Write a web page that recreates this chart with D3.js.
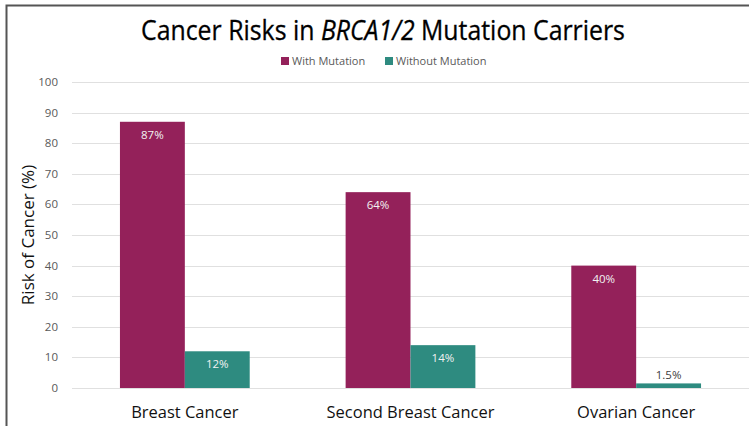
<!DOCTYPE html>
<html>
<head>
<meta charset="utf-8">
<script src="https://cdn.jsdelivr.net/npm/d3@7"></script>
<style>
  body { margin: 0; background: #fff; }
  svg { display: block; font-family: "Open Sans", sans-serif; }
</style>
</head>
<body>
<div id="chart"></div>
<script>
// Chart data
const categories = ['Breast Cancer', 'Second Breast Cancer', 'Ovarian Cancer']
const seriesNames = ['With Mutation', 'Without Mutation']
const withMutation = [87, 64, 40]
const withoutMutation = [12, 14, 1.5]
const yTicks = [0, 10, 20, 30, 40, 50, 60, 70, 80, 90, 100]

const width = 749, height = 426
const margin = {top: 82, right: 0, bottom: 38, left: 72}
const colors = ['#94215a', '#2e8b80']

const svg = d3.select('#chart').append('svg')
    .attr('width', width)
    .attr('height', height)

// Frame (top and left edges only)
svg.append('path')
    .attr('d', `M6.5,${height} V5.5 H${width}`)
    .attr('fill', 'none')
    .attr('stroke', '#555')
    .attr('stroke-width', 2)

// Scales
const x0 = d3.scaleBand()
    .domain(categories)
    .range([margin.left, width - margin.right])
    .paddingInner(0.425)
    .paddingOuter(0.2125)

const x1 = d3.scaleBand()
    .domain(seriesNames)
    .range([0, x0.bandwidth()])

const y = d3.scaleLinear()
    .domain([0, 100])
    .range([height - margin.bottom, margin.top])

// Grid lines
svg.append('g')
    .selectAll('line')
    .data(yTicks)
    .join('line')
    .attr('x1', margin.left)
    .attr('x2', width)
    .attr('y1', d => Math.round(y(d)) + 0.5)
    .attr('y2', d => Math.round(y(d)) + 0.5)
    .attr('stroke', '#e0e0e0')
    .attr('stroke-width', 1)

// Y axis tick labels
svg.append('g')
    .selectAll('text')
    .data(yTicks)
    .join('text')
    .attr('x', 58)
    .attr('y', d => y(d))
    .attr('dy', '0.35em')
    .attr('text-anchor', 'end')
    .attr('font-size', 11.5)
    .attr('fill', '#595959')
    .text(d => d)

// Bars
const rows = categories.map((c, i) => ({
    category: c,
    values: [
        {series: seriesNames[0], value: withMutation[i]},
        {series: seriesNames[1], value: withoutMutation[i]}
    ]
}))

const groups = svg.append('g')
    .selectAll('g')
    .data(rows)
    .join('g')
    .attr('transform', d => `translate(${x0(d.category)},0)`)

groups.selectAll('rect')
    .data(d => d.values)
    .join('rect')
    .attr('x', d => x1(d.series))
    .attr('width', x1.bandwidth())
    .attr('y', d => y(d.value))
    .attr('height', d => y(0) - y(d.value))
    .attr('fill', (d, i) => colors[i])

// Value labels
groups.selectAll('text')
    .data(d => d.values)
    .join('text')
    .attr('x', d => x1(d.series) + x1.bandwidth() / 2)
    .attr('y', d => d.value < 5 ? y(d.value) - 4 : y(d.value) + 17)
    .attr('text-anchor', 'middle')
    .attr('font-size', 11.5)
    .attr('fill', d => d.value < 5 ? '#404040' : '#f2f2f2')
    .text(d => d.value + '%')

// Category labels
svg.append('g')
    .selectAll('text')
    .data(categories)
    .join('text')
    .attr('transform', d => `translate(${x0(d) + x0.bandwidth() / 2},418) scale(0.97,1)`)
    .attr('text-anchor', 'middle')
    .attr('font-size', 17)
    .attr('fill', '#111')
    .text(d => d)

// Y axis title
svg.append('text')
    .attr('transform', `translate(34,${(y(0) + y(100)) / 2}) rotate(-90)`)
    .attr('text-anchor', 'middle')
    .attr('font-size', 17)
    .attr('fill', '#111')
    .text('Risk of Cancer (%)')

// Title (squeezed a little to mimic the narrow original face)
const title = svg.append('text')
    .attr('transform', 'translate(383,40) scale(0.92,1)')
    .attr('text-anchor', 'middle')
    .attr('font-size', 27)
    .attr('fill', '#000')
    .attr('stroke', '#000')
    .attr('stroke-width', 0.3)
title.append('tspan').text('Cancer Risks in ')
title.append('tspan').attr('font-style', 'italic').text('BRCA1/2')
title.append('tspan').text(' Mutation Carriers')

// Legend
const legendX = [281, 385]
const legend = svg.append('g')
    .selectAll('g')
    .data(seriesNames)
    .join('g')
    .attr('transform', (d, i) => `translate(${legendX[i]},56)`)

legend.append('rect')
    .attr('width', 8)
    .attr('height', 8)
    .attr('y', 1)
    .attr('fill', (d, i) => colors[i])

legend.append('text')
    .attr('x', 11)
    .attr('y', 5)
    .attr('dy', '0.35em')
    .attr('font-size', 11)
    .attr('fill', '#595959')
    .text(d => d)
</script>
</body>
</html>
